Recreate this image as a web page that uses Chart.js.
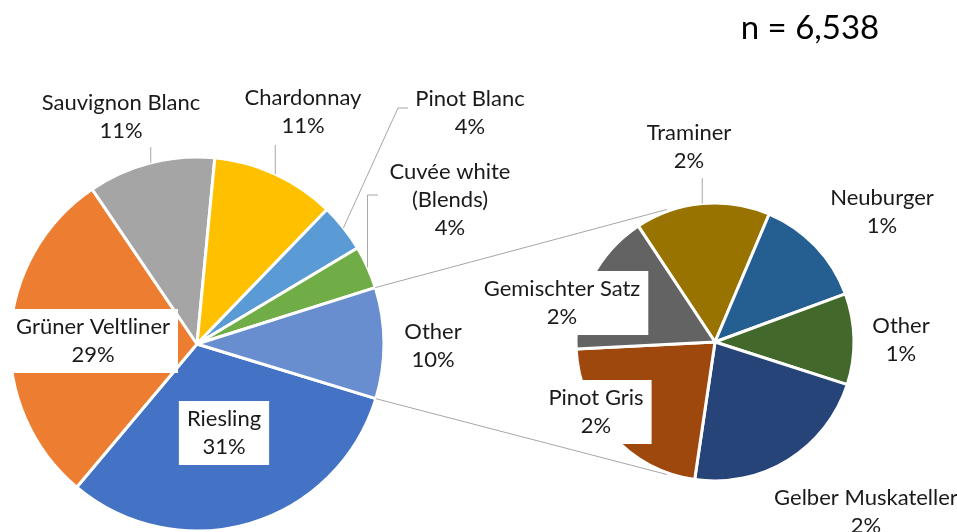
<!DOCTYPE html>
<html>
<head>
<meta charset="utf-8">
<script src="https://cdn.jsdelivr.net/npm/chart.js@4.4.0/dist/chart.umd.min.js"></script>
<style>
  html, body { margin: 0; padding: 0; background: #fff; overflow: hidden; }
  #wrap { position: relative; width: 957px; height: 532px; }
  #wrap canvas { position: absolute; left: 0; top: 0; }
</style>
</head>
<body>
<div id="wrap">
  <canvas id="mainPie" width="957" height="532"></canvas>
  <canvas id="subPie" width="957" height="532"></canvas>
</div>
<script>
  // Primary pie: grape varieties (share, %)
  const mainLabels = ['Riesling', 'Grüner Veltliner', 'Sauvignon Blanc', 'Chardonnay', 'Pinot Blanc', 'Cuvée white\n(Blends)', 'Other'];
  const mainValues = [31.4, 29.4, 11.0, 10.7, 4.2, 3.7, 9.6];
  const mainPct = ['31%', '29%', '11%', '11%', '4%', '4%', '10%'];
  const mainColors = ['#4472C4', '#ED7D31', '#A5A5A5', '#FFC000', '#5B9BD5', '#70AD47', '#698ED0'];

  // Secondary pie: breakdown of "Other"
  const subLabels = ['Traminer', 'Neuburger', 'Other', 'Gelber Muskateller', 'Pinot Gris', 'Gemischter Satz'];
  const subValues = [1.57, 1.30, 1.06, 2.24, 2.19, 1.65];
  const subPct = ['2%', '1%', '1%', '2%', '2%', '2%'];
  const subColors = ['#997300', '#255E91', '#43682B', '#264478', '#9E480E', '#636363'];

  const sampleText = 'n = 6,538';

  // label placement (centre of text block), boxed = white background
  const mainLabelPos = [
    { x: 224, y: 433, boxed: true },
    { x: 93, y: 341, boxed: true },
    { x: 121, y: 117, leader: { up: 147 } },
    { x: 303, y: 112, leader: { up: 145 } },
    { x: 470, y: 113, leader: { path: [[398, 108], [408, 108]] } },
    { x: 450, y: 200, leader: { up: 195, path: [[378, 195]] } },
    { x: 433, y: 346 }
  ];
  const subLabelPos = [
    { x: 689, y: 147, leader: { up: 178 } },
    { x: 882, y: 212 },
    { x: 901, y: 340 },
    { x: 866, y: 512 },
    { x: 596, y: 412, boxed: true },
    { x: 562, y: 303, boxed: true }
  ];

  const FONT = '22px Lato, "Open Sans", sans-serif';
  const TEXT = '#1a1a1a';
  const LINE = '#A6A6A6';
  const LH = 28;

  function drawLabels(chart, names, pcts, pos) {
    const ctx = chart.ctx;
    const arcs = chart.getDatasetMeta(0).data;
    ctx.save();
    ctx.font = FONT;
    ctx.textAlign = 'center';
    ctx.textBaseline = 'middle';
    arcs.forEach((arc, i) => {
      const p = pos[i];
      const lines = names[i].split('\n').concat([pcts[i]]);
      // leader line from the middle of the slice edge
      if (p.leader) {
        const mid = (arc.startAngle + arc.endAngle) / 2;
        const sx = arc.x + Math.cos(mid) * arc.outerRadius;
        const sy = arc.y + Math.sin(mid) * arc.outerRadius;
        ctx.beginPath();
        ctx.strokeStyle = LINE;
        ctx.lineWidth = 1;
        ctx.moveTo(sx, sy);
        if (p.leader.up !== undefined) ctx.lineTo(sx, p.leader.up);
        (p.leader.path || []).forEach(pt => ctx.lineTo(pt[0], pt[1]));
        ctx.stroke();
      }
      const h = lines.length * LH;
      if (p.boxed) {
        const w = Math.max(...lines.map(l => ctx.measureText(l).width)) + 16;
        ctx.fillStyle = '#fff';
        ctx.fillRect(p.x - w / 2, p.y - h / 2 - 4, w, h + 8);
      }
      ctx.fillStyle = TEXT;
      lines.forEach((l, k) => {
        ctx.fillText(l, p.x, p.y - h / 2 + LH / 2 + k * LH);
      });
    });
    ctx.restore();
  }

  const mainLabelPlugin = {
    id: 'mainLabels',
    afterDatasetsDraw(chart) {
      drawLabels(chart, mainLabels, mainPct, mainLabelPos);
      const ctx = chart.ctx;
      ctx.save();
      ctx.font = '33px Lato, "Open Sans", sans-serif';
      ctx.fillStyle = '#000';
      ctx.textAlign = 'center';
      ctx.textBaseline = 'middle';
      ctx.fillText(sampleText, 810, 28);
      ctx.restore();
    }
  };

  const mainChart = new Chart(document.getElementById('mainPie').getContext('2d'), {
    type: 'pie',
    data: {
      labels: mainLabels,
      datasets: [{
        data: mainValues,
        backgroundColor: mainColors,
        borderColor: '#fff',
        borderWidth: 3,
        hoverOffset: 0,
        radius: 187
      }]
    },
    options: {
      responsive: false,
      animation: false,
      devicePixelRatio: 1,
      events: [],
      rotation: 107,
      layout: { padding: { left: 9, right: 572, top: 156, bottom: 0 } },
      plugins: { legend: { display: false }, tooltip: { enabled: false } }
    },
    plugins: [mainLabelPlugin]
  });

  // connector lines from the "Other" slice to the secondary pie, drawn after the labels
  const connectorPlugin = {
    id: 'connectors',
    afterDatasetsDraw(chart) {
      drawLabels(chart, subLabels, subPct, subLabelPos);
      const other = mainChart.getDatasetMeta(0).data[mainLabels.length - 1];
      const sub = chart.getDatasetMeta(0).data[0];
      const r = sub.outerRadius + 2;
      const tilt = 20 * Math.PI / 180;
      const a1 = -Math.PI / 2 - tilt, a2 = Math.PI / 2 + tilt;
      const ctx = chart.ctx;
      ctx.save();
      ctx.strokeStyle = LINE;
      ctx.lineWidth = 1;
      ctx.beginPath();
      ctx.moveTo(other.x + Math.cos(other.startAngle) * other.outerRadius, other.y + Math.sin(other.startAngle) * other.outerRadius);
      ctx.lineTo(sub.x + Math.cos(a1) * r, sub.y + Math.sin(a1) * r);
      ctx.moveTo(other.x + Math.cos(other.endAngle) * other.outerRadius, other.y + Math.sin(other.endAngle) * other.outerRadius);
      ctx.lineTo(sub.x + Math.cos(a2) * r, sub.y + Math.sin(a2) * r);
      ctx.stroke();
      ctx.restore();
    }
  };

  const subChart = new Chart(document.getElementById('subPie').getContext('2d'), {
    type: 'pie',
    data: {
      labels: subLabels,
      datasets: [{
        data: subValues,
        backgroundColor: subColors,
        borderColor: '#fff',
        borderWidth: 3,
        hoverOffset: 0,
        radius: 139
      }]
    },
    options: {
      responsive: false,
      animation: false,
      devicePixelRatio: 1,
      events: [],
      rotation: -33.5,
      layout: { padding: { left: 575, right: 102, top: 202, bottom: 50 } },
      plugins: { legend: { display: false }, tooltip: { enabled: false } }
    },
    plugins: [connectorPlugin]
  });
</script>
</body>
</html>
